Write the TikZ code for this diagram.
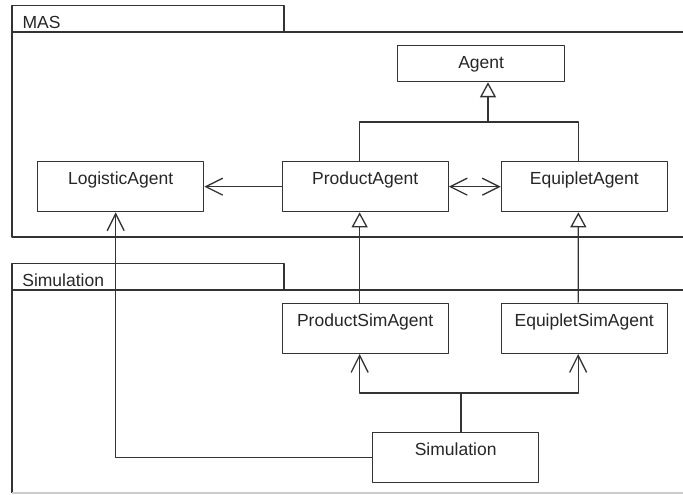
\documentclass[tikz,border=0pt]{standalone}
\usepackage{fontspec}
\setmainfont{Liberation Sans}
\usetikzlibrary{arrows.meta,calc}
\definecolor{strokecol}{rgb}{0.2,0.2,0.2}
\tikzset{
  umlclass/.style={draw=strokecol, rectangle, inner sep=0pt, minimum width=166pt,
    text height=23pt, text depth=27pt, anchor=north west},
  pkglabel/.style={anchor=base west, inner sep=0pt},
  assoc/.style={-{Straight Barb[length=17pt,width=17pt]}},
  bothassoc/.style={{Straight Barb[length=17pt,width=17pt]}-{Straight Barb[length=17pt,width=17pt]}},
  generalize/.style={-{Triangle[open,length=15pt,width=16pt,fill=white]}},
}
\begin{document}
\begin{tikzpicture}[x=1pt,y=-1pt,line join=bevel,line width=1.3pt,draw=strokecol,
  font=\fontsize{17.5}{20}\selectfont,text=black!85]
\useasboundingbox (0,0) rectangle (683,495);
%%
% Package: MAS
\draw[strokecol] (12,32) rectangle (284,5.7);
\draw[strokecol] (683,32) -- (12,32) -- (12,237) -- (683,237);
\node[pkglabel] (maslabel) at (22,28.3) {MAS};
% Package: Simulation
\draw[strokecol] (12,290) rectangle (284,263.3);
\draw[strokecol] (683,290) -- (12,290) -- (12,493);
\draw[black!20,line width=1.5pt] (12,493) -- (683,493);
\node[pkglabel] (simlabel) at (21.7,286) {Simulation};
%%
% Node: agent
\node[umlclass, minimum width=167pt, text depth=13pt] (agent) at (397,45) {Agent};
% Node: logistic
\node[umlclass] (logistic) at (37,161) {LogisticAgent};
% Node: product
\node[umlclass] (product) at (281.5,161) {ProductAgent};
% Node: equiplet
\node[umlclass] (equiplet) at (500.7,161) {EquipletAgent};
% Node: productsim
\node[umlclass] (productsim) at (281.5,302.7) {ProductSimAgent};
% Node: equipletsim
\node[umlclass] (equipletsim) at (500.5,302.7) {EquipletSimAgent};
% Node: simulation
\node[umlclass] (simulation) at (372,432) {Simulation};
%%
\coordinate (agentjoin) at (488,122);
\coordinate (simjoin) at (461,393);
% Edge: product -> logistic
\draw[strokecol,assoc] (product.west) -- (logistic.east);
% Edge: product <-> equiplet
\draw[strokecol,bothassoc] (product.east) -- (equiplet.west);
% Edge: product, equiplet -> agent
\draw[strokecol] ([xshift=-5.5pt]product.north) |- ([xshift=-6pt]equiplet.north |- agentjoin)
  -- ([xshift=-6pt]equiplet.north);
\draw[strokecol,generalize] (agentjoin) -- (agentjoin |- agent.south);
% Edge: productsim -> product
\draw[strokecol,generalize] ([xshift=-5.5pt]productsim.north) -- ([xshift=-5.5pt]product.south);
% Edge: equipletsim -> equiplet
\draw[strokecol,generalize] ([xshift=-6pt]equipletsim.north) -- ([xshift=-6pt]equiplet.south);
% Edge: simulation -> productsim, equipletsim
\draw[strokecol] (simulation.north -| simjoin) -- (simjoin);
\draw[strokecol,assoc] (simjoin) -| ([xshift=-5.5pt]productsim.south);
\draw[strokecol,assoc] (simjoin) -| ([xshift=-6pt]equipletsim.south);
% Edge: simulation -> logistic
\draw[strokecol,assoc] (simulation.west) -| ([xshift=-5pt]logistic.south);
%
\end{tikzpicture}
\end{document}
